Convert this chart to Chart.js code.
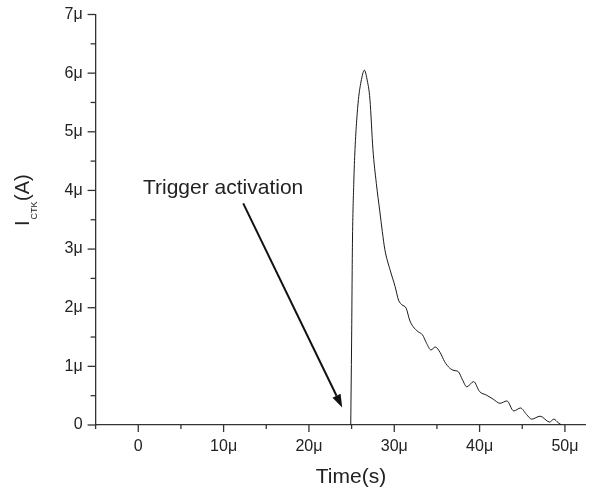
<!DOCTYPE html>
<html>
<head>
<meta charset="utf-8">
<script src="https://cdn.jsdelivr.net/npm/chart.js@4.4.0/dist/chart.umd.min.js"></script>
<style>
  html, body { margin: 0; padding: 0; background: #fff; }
  #wrap { width: 590px; height: 491px; position: relative; }
</style>
</head>
<body>
<div id="wrap"><canvas id="mycanvas" width="590" height="491"></canvas></div>
<script>
// time in microseconds, current in microamps
var timeUs = [24.9, 25.0, 25.1, 25.25, 25.4, 25.6, 25.8, 26.1, 26.5, 26.8, 27.15, 27.5, 27.9, 28.3, 28.6,
  28.9, 29.5, 30.1, 30.5, 30.9, 31.4, 31.8, 32.2, 32.8, 33.3, 33.8, 34.3, 34.8, 35.4, 35.9, 36.5, 37.0,
  37.5, 38.0, 38.5, 39.3, 40.0, 40.8, 41.6, 42.4, 43.2, 44.0, 44.8, 45.5, 46.1, 47.1, 48.2, 48.7, 49.2, 49.6];
var currentUA = [0, 1.4, 3.1, 4.1, 4.7, 5.2, 5.55, 5.85, 6.05, 5.9, 5.55, 4.7, 4.12, 3.65, 3.3,
  2.99, 2.65, 2.36, 2.13, 2.05, 1.99, 1.79, 1.68, 1.59, 1.54, 1.39, 1.28, 1.33, 1.23, 1.08, 0.97, 0.93,
  0.91, 0.77, 0.65, 0.74, 0.57, 0.51, 0.44, 0.37, 0.41, 0.24, 0.29, 0.18, 0.10, 0.15, 0.05, 0.10, 0.04, 0];

var xTickLabels = ['0', '10μ', '20μ', '30μ', '40μ', '50μ'];
var yTickLabels = ['0', '1μ', '2μ', '3μ', '4μ', '5μ', '6μ', '7μ'];

var annotText = 'Trigger activation';
var annotPos = [0.55, 3.94];
var arrowFrom = [12.3, 3.78];
var arrowTo = [23.9, 0.30];

var FONT = "'Liberation Sans', Arial, sans-serif";
var AXIS = '#333';

var points = [];
for (var i = 0; i < timeUs.length; i++) {
  points.push({ x: timeUs[i], y: currentUA[i] });
}

// ticks (major + minor), titles and the arrow annotation
var extras = {
  id: 'extras',
  afterDraw: function(chart) {
    var c = chart.ctx;
    var xs = chart.scales.x, ys = chart.scales.y;
    c.save();
    c.strokeStyle = AXIS;
    c.lineWidth = 1.3;
    xs.ticks.forEach(function(t) {
      var px = xs.getPixelForValue(t.value);
      var len = t.label !== '' ? 7 : 4;
      c.beginPath(); c.moveTo(px, xs.top); c.lineTo(px, xs.top + len); c.stroke();
    });
    ys.ticks.forEach(function(t) {
      var py = ys.getPixelForValue(t.value);
      var len = t.label !== '' ? 8 : 5;
      c.beginPath(); c.moveTo(ys.right, py); c.lineTo(ys.right - len, py); c.stroke();
    });

    // annotation text
    c.fillStyle = '#222';
    c.font = '21px ' + FONT;
    c.textBaseline = 'alphabetic';
    c.textAlign = 'left';
    c.fillText(annotText, xs.getPixelForValue(annotPos[0]), ys.getPixelForValue(annotPos[1]));

    // arrow
    var x1 = xs.getPixelForValue(arrowFrom[0]), y1 = ys.getPixelForValue(arrowFrom[1]);
    var x2 = xs.getPixelForValue(arrowTo[0]), y2 = ys.getPixelForValue(arrowTo[1]);
    var ang = Math.atan2(y2 - y1, x2 - x1);
    var hl = 13, hw = 4.5;
    var bx = x2 - hl * Math.cos(ang), by = y2 - hl * Math.sin(ang);
    c.strokeStyle = '#111';
    c.lineWidth = 2;
    c.beginPath(); c.moveTo(x1, y1); c.lineTo(bx, by); c.stroke();
    c.fillStyle = '#111';
    c.beginPath();
    c.moveTo(x2, y2);
    c.lineTo(bx + hw * Math.sin(ang), by - hw * Math.cos(ang));
    c.lineTo(bx - hw * Math.sin(ang), by + hw * Math.cos(ang));
    c.closePath(); c.fill();

    // x title
    c.fillStyle = '#222';
    c.font = '21px ' + FONT;
    c.textAlign = 'center';
    c.fillText('Time(s)', 351, 483);

    // y title with subscript
    c.translate(29, 226);
    c.rotate(-Math.PI / 2);
    c.textAlign = 'left';
    c.font = '20px ' + FONT;
    c.fillText('I', 0, 0);
    var w = c.measureText('I').width + 1;
    c.font = '9px ' + FONT;
    c.fillText('CTK', w, 8);
    w += c.measureText('CTK').width + 0.5;
    c.font = '20px ' + FONT;
    c.fillText('(A)', w, 0);
    c.restore();
  }
};

var ctx = document.getElementById('mycanvas').getContext('2d');
var chart = new Chart(ctx, {
  type: 'scatter',
  data: {
    datasets: [{
      label: 'I_CTK',
      data: points,
      showLine: true,
      borderColor: '#1a1a1a',
      borderWidth: 1,
      pointRadius: 0,
      fill: false,
      cubicInterpolationMode: 'monotone'
    }]
  },
  options: {
    responsive: false,
    animation: false,
    layout: { padding: { top: 14.5, right: 4.6, bottom: 0, left: 0 } },
    plugins: { legend: { display: false }, tooltip: { enabled: false } },
    scales: {
      x: {
        type: 'linear',
        min: -5,
        max: 52.4,
        afterFit: function(s) { s.height = 66; s.paddingLeft = 0; s.paddingRight = 0; },
        border: { color: AXIS, width: 1.3 },
        grid: { display: false, drawTicks: false },
        ticks: {
          stepSize: 5,
          includeBounds: false,
          autoSkip: false,
          maxRotation: 0,
          padding: 12,
          color: '#222',
          font: { family: FONT, size: 16 },
          callback: function(v) {
            return (v >= 0 && v % 10 === 0) ? xTickLabels[v / 10] : '';
          }
        }
      },
      y: {
        min: 0,
        max: 7,
        afterFit: function(s) { s.width = 95.6; s.paddingTop = 0; s.paddingBottom = 0; },
        border: { color: AXIS, width: 1.3 },
        grid: { display: false, drawTicks: false },
        ticks: {
          stepSize: 0.5,
          autoSkip: false,
          padding: 13,
          color: '#222',
          font: { family: FONT, size: 16 },
          callback: function(v) {
            return Number.isInteger(v) ? yTickLabels[v] : '';
          }
        }
      }
    }
  },
  plugins: [extras]
});
</script>
</body>
</html>
